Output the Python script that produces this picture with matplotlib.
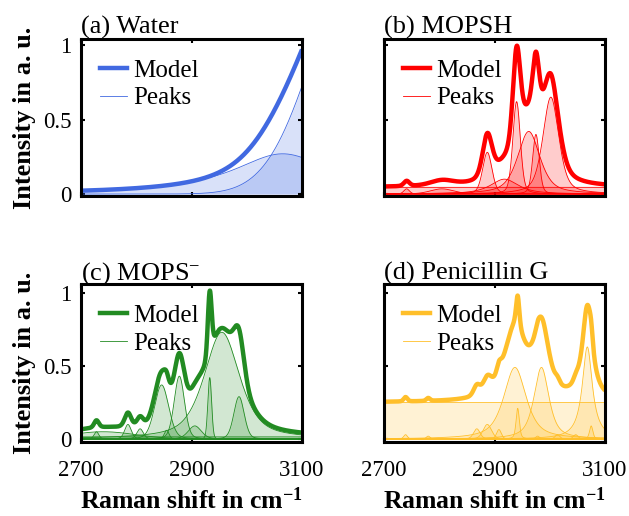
import numpy as np
import matplotlib
matplotlib.use("Agg")
import matplotlib.pyplot as plt
from matplotlib.lines import Line2D

plt.rcParams['font.family'] = 'serif'
plt.rcParams['font.serif'] = ['Liberation Serif', 'DejaVu Serif']
plt.rcParams['mathtext.fontset'] = 'custom'
plt.rcParams['mathtext.rm'] = 'Liberation Serif'
plt.rcParams['mathtext.bf'] = 'Liberation Serif:bold'
plt.rcParams['mathtext.it'] = 'Liberation Serif:italic'

# ---------------- data (peak-fit parameters) ----------------
titles = ["(a) Water", "(b) MOPSH", "(c) MOPS$^{-}$", "(d) Penicillin G"]
colors = ["#4169E1", "#FF0000", "#228B22", "#FFBF2A"]

# (a) Water
a_centers = [3065, 3200]
a_heights = [0.27, 1.48]
a_fwhm = [220, 197]
a_eta = [1.0, 0.0]
a_offset = 0.0

# (b) MOPSH
b_centers = [2741, 2805, 2887, 2918, 2940, 2962, 2975, 3002]
b_heights = [0.035, 0.035, 0.28, 0.10, 0.62, 0.42, 0.40, 0.65]
b_fwhm = [12, 50, 20, 60, 16, 48, 14, 34]
b_eta = [0.3, 0.3, 0.3, 0.8, 0.3, 0.6, 0.3, 0.5]
b_offset = 0.045

# (c) MOPS-
c_centers = [2728, 2740, 2785, 2807, 2846, 2855, 2878, 2906, 2933, 2955, 2986]
c_heights = [0.05, 0.05, 0.10, 0.07, 0.37, 0.06, 0.43, 0.09, 0.42, 0.73, 0.29]
c_fwhm = [10, 140, 14, 14, 30, 10, 22, 28, 8, 76, 22]
c_eta = [0.3, 0.0, 0.3, 0.3, 0.2, 0.2, 0.2, 0.3, 0.1, 0.6, 0.2]
c_offset = 0.015

# (d) Penicillin G
d_centers = [2739, 2780, 2868, 2887, 2908, 2937, 2942, 2978, 2985, 3014, 3047, 3068, 3075]
d_heights = [0.03, 0.02, 0.07, 0.10, 0.065, 0.49, 0.21, 0.02, 0.49, 0.03, 0.03, 0.63, 0.09]
d_fwhm = [8, 8, 14, 18, 10, 48, 7, 8, 32, 10, 10, 22, 7]
d_eta = [0.3, 0.3, 0.3, 0.3, 0.3, 0.7, 0.5, 0.3, 0.7, 0.3, 0.3, 1.0, 0.5]
d_offset = 0.25

x_ticks = [2700, 2900, 3100]
y_ticks = [0, 0.5, 1]
y_ticklabels = ["0", "0.5", "1"]

panels = [
    (a_centers, a_heights, a_fwhm, a_eta, a_offset),
    (b_centers, b_heights, b_fwhm, b_eta, b_offset),
    (c_centers, c_heights, c_fwhm, c_eta, c_offset),
    (d_centers, d_heights, d_fwhm, d_eta, d_offset),
]


def pseudo_voigt(x, c, h, w, eta):
    g = np.exp(-4 * np.log(2) * ((x - c) / w) ** 2)
    l = 1.0 / (1.0 + (2 * (x - c) / w) ** 2)
    return h * (eta * l + (1 - eta) * g)


x = np.linspace(2700, 3100, 1601)

W, H = 629, 516
fig = plt.figure(figsize=(W / 100, H / 100), dpi=100)

boxes = [
    (81, 39, 221, 157),
    (384, 39, 221, 157),
    (81, 284, 221, 158),
    (384, 284, 221, 158),
]
ylims = [(-0.013, 1.04), (-0.013, 1.04), (-0.02, 1.06), (-0.02, 1.06)]

for i, (params, title, col, box, yl) in enumerate(zip(panels, titles, colors, boxes, ylims)):
    cs, hs, ws, es, off = params
    l, t, w, h = box
    ax = fig.add_axes([l / W, 1 - (t + h) / H, w / W, h / H])
    comps = [pseudo_voigt(x, c, hh, ww, ee) for c, hh, ww, ee in zip(cs, hs, ws, es)]
    if off > 0:
        comps.append(np.full_like(x, off))
    model = np.sum(comps, axis=0)
    for comp in comps:
        ax.fill_between(x, 0, comp, color=col, alpha=0.2, lw=0)
        ax.plot(x, comp, color=col, lw=0.6)
    ax.plot(x, model, color=col, lw=3.2, solid_capstyle='butt')

    ax.set_xlim(2700, 3100)
    ax.set_ylim(*yl)
    ax.set_xticks(x_ticks)
    ax.set_xticklabels([str(v) for v in x_ticks])
    ax.set_yticks(y_ticks)
    ax.set_yticklabels(y_ticklabels)
    ax.tick_params(direction='in', length=3, width=1.5, top=True, right=True,
                   labelsize=16.5, pad=7)
    ax.tick_params(axis='x', pad=13)
    for sp in ax.spines.values():
        sp.set_linewidth(2.2)
    if i in (1, 3):
        ax.tick_params(labelleft=False)
    else:
        ax.set_ylabel("Intensity in a. u.", fontsize=19, fontweight='bold')
        ax.yaxis.set_label_coords(-0.205, 0.5)
    if i in (0, 1):
        ax.tick_params(labelbottom=False)
    else:
        ax.set_xlabel(r"Raman shift in cm$^{\mathbf{-1}}$", fontsize=18.5, fontweight='bold')
        ax.xaxis.set_label_coords(0.5, -0.29)
    ax.set_title(title, loc='left', fontsize=19, pad=3)

    handles = [Line2D([], [], color=col, lw=3.2), Line2D([], [], color=col, lw=0.6)]
    ax.legend(handles, ["Model", "Peaks"], loc='upper left', frameon=False,
              bbox_to_anchor=(0.085, 0.87), borderaxespad=0, borderpad=0,
              fontsize=18, handlelength=1.1, handletextpad=0.25, labelspacing=0.2)

fig.savefig("out.png", dpi=100)
